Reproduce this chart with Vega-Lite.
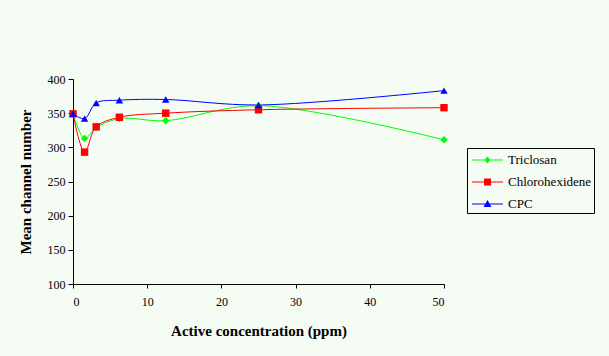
{
  "$schema": "https://vega.github.io/schema/vega-lite/v6.json",
  "width": 371,
  "height": 205,
  "autosize": "none",
  "padding": {"left": 73, "top": 79, "right": 165, "bottom": 72},
  "background": "#F4FCF4",
  "config": {
    "view": {"stroke": null},
    "font": "Liberation Serif",
    "axis": {
      "grid": false,
      "domainColor": "#000000",
      "tickColor": "#000000",
      "labelColor": "#000000",
      "titleColor": "#000000",
      "labelFont": "Liberation Serif",
      "titleFont": "Liberation Serif",
      "labelFontSize": 12,
      "titleFontSize": 15,
      "titleFontWeight": "bold"
    }
  },
  "data": {
    "values": [
      {"series": "Triclosan", "conc": 0, "value": 349},
      {"series": "Triclosan", "conc": 1.5625, "value": 313},
      {"series": "Triclosan", "conc": 3.125, "value": 329},
      {"series": "Triclosan", "conc": 6.25, "value": 342},
      {"series": "Triclosan", "conc": 12.5, "value": 339},
      {"series": "Triclosan", "conc": 25, "value": 361},
      {"series": "Triclosan", "conc": 50, "value": 311},
      {"series": "Chlorohexidene", "conc": 0, "value": 349},
      {"series": "Chlorohexidene", "conc": 1.5625, "value": 293},
      {"series": "Chlorohexidene", "conc": 3.125, "value": 330},
      {"series": "Chlorohexidene", "conc": 6.25, "value": 344},
      {"series": "Chlorohexidene", "conc": 12.5, "value": 350},
      {"series": "Chlorohexidene", "conc": 25, "value": 355},
      {"series": "Chlorohexidene", "conc": 50, "value": 358},
      {"series": "CPC", "conc": 0, "value": 349},
      {"series": "CPC", "conc": 1.5625, "value": 342},
      {"series": "CPC", "conc": 3.125, "value": 365},
      {"series": "CPC", "conc": 6.25, "value": 369},
      {"series": "CPC", "conc": 12.5, "value": 370},
      {"series": "CPC", "conc": 25, "value": 362},
      {"series": "CPC", "conc": 50, "value": 383}
    ]
  },
  "encoding": {
    "x": {
      "field": "conc",
      "type": "quantitative",
      "title": "Active concentration (ppm)",
      "scale": {"domain": [0, 50], "nice": false, "zero": false},
      "axis": {"values": [0, 10, 20, 30, 40, 50], "tickSize": 4, "labelPadding": 8, "titlePadding": 16}
    },
    "y": {
      "field": "value",
      "type": "quantitative",
      "title": "Mean channel number",
      "scale": {"domain": [100, 400], "nice": false, "zero": false},
      "axis": {"values": [100, 150, 200, 250, 300, 350, 400], "tickSize": 5, "labelPadding": 3, "titlePadding": 14}
    },
    "color": {
      "field": "series",
      "type": "nominal",
      "sort": ["Triclosan", "Chlorohexidene", "CPC"],
      "scale": {"domain": ["Triclosan", "Chlorohexidene", "CPC"], "range": ["#00FF00", "#FF0000", "#0000FF"]},
      "legend": {
        "title": null,
        "orient": "none",
        "legendX": 394,
        "legendY": 69,
        "strokeColor": "#000000",
        "fillColor": "#F4FCF4",
        "padding": 2,
        "labelFont": "Liberation Serif",
        "labelFontSize": 13,
        "labelColor": "#000000",
        "labelOffset": 19,
        "symbolSize": 400,
        "symbolStrokeWidth": 0,
        "rowPadding": 5,
        "encode": {
          "symbols": {
            "update": {
              "shape": {"signal": "datum.value === 'Triclosan' ? 'M-0.7,-0.05H2.4V0.05H-0.7Z M0.85,-0.35L1.15,0L0.85,0.35L0.55,0Z' : datum.value === 'Chlorohexidene' ? 'M-0.7,-0.05H2.4V0.05H-0.7Z M0.5,-0.35H1.2V0.35H0.5Z' : 'M-0.7,-0.05H2.4V0.05H-0.7Z M0.85,-0.4L1.25,0.3H0.45Z'"},
              "fill": {"signal": "datum.value === 'Triclosan' ? '#00FF00' : datum.value === 'Chlorohexidene' ? '#FF0000' : '#0000FF'"},
              "strokeWidth": {"value": 0},
              "opacity": {"value": 1}
            }
          }
        }
      }
    },
    "order": {"field": "conc", "type": "quantitative"}
  },
  "layer": [
    {
      "mark": {"type": "line", "interpolate": "catmull-rom", "strokeWidth": 1},
      "encoding": {}
    },
    {
      "mark": {"type": "point", "filled": true, "opacity": 1, "size": 55},
      "encoding": {
        "shape": {
          "condition": [
            {"test": "datum.series === 'Triclosan'", "value": "diamond"},
            {"test": "datum.series === 'Chlorohexidene'", "value": "square"}
          ],
          "value": "triangle-up"
        }
      }
    }
  ]
}
